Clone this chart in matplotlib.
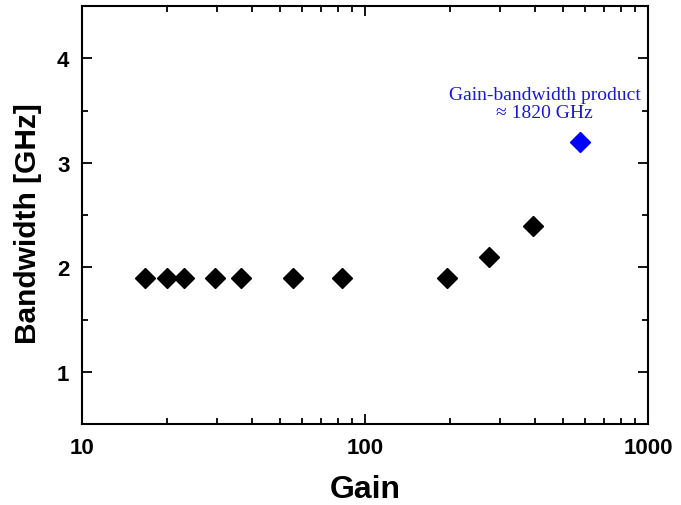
import matplotlib
matplotlib.use("Agg")
import matplotlib.pyplot as plt
from matplotlib.ticker import LogLocator, NullFormatter, FixedLocator, MultipleLocator

# data
gain = [16.7, 20.0, 22.9, 29.5, 36.5, 55.7, 82.9, 195, 274, 392]
bandwidth = [1.9, 1.9, 1.9, 1.9, 1.9, 1.9, 1.9, 1.9, 2.1, 2.4]
gbp_gain = [575]
gbp_bw = [3.2]

plt.rcParams['font.family'] = ['Liberation Sans', 'DejaVu Sans']

fig = plt.figure(figsize=(6.81, 5.06), dpi=100)
ax = fig.add_axes([0.1204, 0.160, 0.8311, 0.826])

ax.plot(gain, bandwidth, linestyle='none', marker='D', color='black', markersize=10.5)
ax.plot(gbp_gain, gbp_bw, linestyle='none', marker='D', color='#0000ff', markersize=10.5)

ax.set_xscale('log')
ax.set_xlim(10, 1000)
ax.set_ylim(0.5, 4.5)
ax.xaxis.set_major_locator(FixedLocator([10, 100, 1000]))
ax.xaxis.set_major_formatter(plt.FuncFormatter(lambda v, p: '%d' % v))
ax.xaxis.set_minor_locator(LogLocator(base=10, subs=range(2, 10)))
ax.xaxis.set_minor_formatter(NullFormatter())
ax.yaxis.set_major_locator(MultipleLocator(1))
ax.yaxis.set_minor_locator(MultipleLocator(0.5))

ax.tick_params(which='both', direction='in', top=True, right=True, width=1.3)
ax.tick_params(which='major', length=7, labelsize=16, pad=9)
ax.tick_params(which='minor', length=4)
for lab in ax.get_xticklabels() + ax.get_yticklabels():
    lab.set_fontweight('bold')
for s in ax.spines.values():
    s.set_linewidth(1.5)

ax.set_xlabel('Gain', fontsize=23, fontweight='bold', labelpad=12)
ax.set_ylabel('Bandwidth [GHz]', fontsize=21.5, fontweight='bold')
ax.yaxis.set_label_coords(-0.071, 0.481)

ax.text(432, 3.57, 'Gain-bandwidth product\n\u2248 1820 GHz', color='#1a1acc',
        family=['Liberation Serif', 'DejaVu Serif'], fontsize=14,
        ha='center', va='center', linespacing=1.05)

fig.savefig('out.png', dpi=100)
